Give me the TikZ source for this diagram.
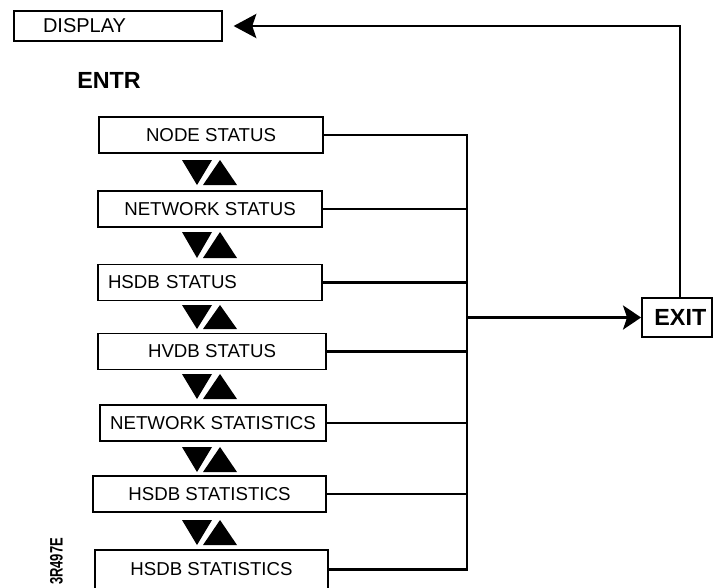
\documentclass[tikz,border=0pt]{standalone}
\usepackage{fontspec}
\setmainfont{Liberation Sans}
\usetikzlibrary{arrows.meta}
\begin{document}
\begin{tikzpicture}[x=0.75pt,y=-0.75pt,
  box/.style={draw, line width=1.4pt, minimum height=27pt, inner sep=0pt,
    font=\fontsize{14}{16}\selectfont},
  wire/.style={line width=2.2pt, line join=miter},
  tri/.style={fill=black},
  head/.style={-{Stealth[length=#1,width=18pt,inset=3pt]}}]
\useasboundingbox (0,0) rectangle (714,587);
\clip (0,0) rectangle (714,587);

% top box and heading
\node[box, minimum width=156pt, minimum height=22.5pt, text width=112.5pt,
  align=left, inner xsep=21.75pt, font=\fontsize{15}{17}\selectfont]
  (display) at (118,26) {DISPLAY};
\node[anchor=west, inner sep=0pt, font=\bfseries\fontsize{17.5}{19}\selectfont]
  (entr) at (77,80) {ENTR};

% menu entries
\node[box, minimum width=168pt]   (b1) at (211,135)   {NODE STATUS};
\node[box, minimum width=168pt]   (b2) at (210,209)   {NETWORK STATUS};
\node[box, minimum width=168pt, text width=153pt, align=left, inner xsep=7.5pt]
                                  (b3) at (210,282.5) {HSDB STATUS};
\node[box, minimum width=171pt]   (b4) at (212,351.5) {HVDB STATUS};
\node[box, minimum width=169.5pt] (b5) at (213,423)   {NETWORK STATISTICS};
\node[box, minimum width=174.75pt] (b6) at (209.5,494) {HSDB STATISTICS};
\node[box, minimum width=174.75pt, minimum height=29pt] (b7) at (211.5,569.5) {HSDB STATISTICS};

% scroll triangles between entries
\foreach \t/\b in {160/185, 232/258, 305/329, 374/399, 447/472, 520/545} {
  \fill[tri] (182,\t) -- (212,\t) -- (197,\b) -- cycle;
  \fill[tri] (203,\b) -- (237,\b) -- (220,\t) -- cycle;
}

% exit box
\node[draw, line width=1.4pt, minimum width=52.5pt, minimum height=29.25pt,
  inner sep=0pt, font=\bfseries\fontsize{17.5}{20}\selectfont]
  (exit) at (677,317.5) {\hspace*{5pt}EXIT};

% collecting bus
\coordinate (busx) at (467,0);
\coordinate (busmid) at (467,317.5);
\coordinate (corner) at (680,26);
\draw[wire] (b1.east) -- (b1.east -| busx) -- (b7.east -| busx) -- (b7.east);
\foreach \n in {2,...,6}
  \draw[wire] (b\n.east) -- (b\n.east -| busx);
\draw[wire, head=13.5pt] (busmid) -- (exit.west);
\draw[wire, head=17pt, shorten >=8pt] (exit.north -| corner) -- (corner) -- (display.east);

% drawing number
\node[rotate=90, inner sep=0pt, font=\bfseries\fontsize{13.5}{14}\selectfont]
  (tag) at (56.5,561.5) {\scalebox{0.72}[1]{3R497E}};
\end{tikzpicture}
\end{document}
